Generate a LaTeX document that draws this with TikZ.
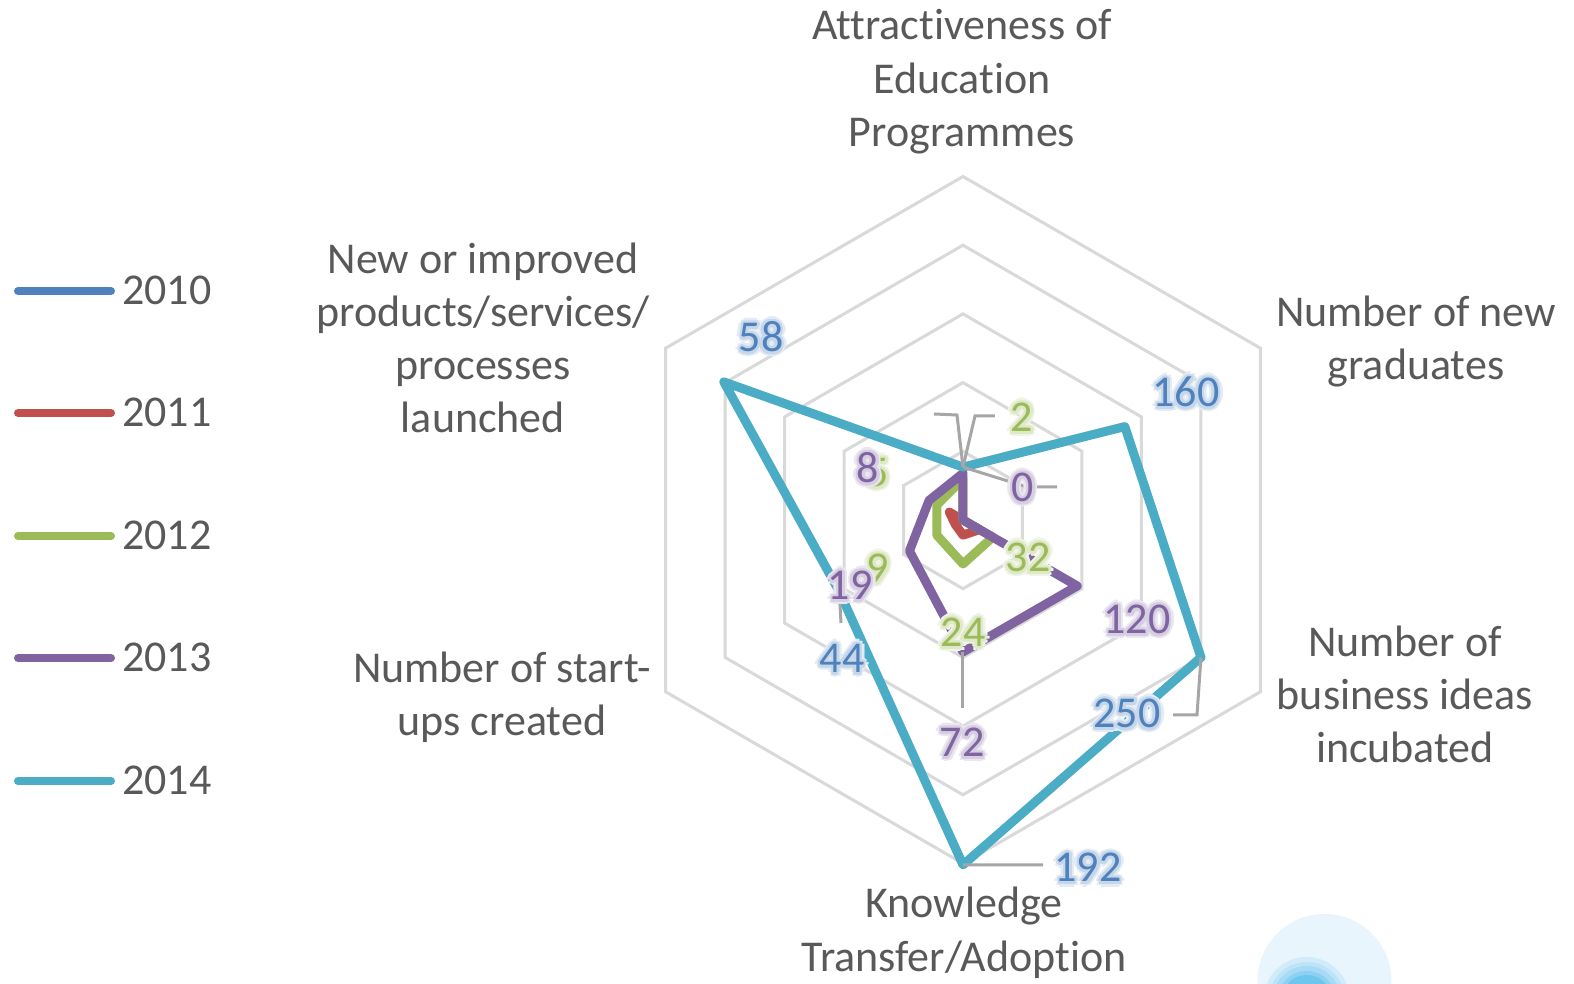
\documentclass[tikz,border=0pt]{standalone}
\usepackage{fontspec}
\setmainfont{Carlito}[Ligatures=CommonOff]
\usetikzlibrary{calc}
\definecolor{c2010}{HTML}{4F81BD}
\definecolor{c2011}{HTML}{C0504D}
\definecolor{c2012}{HTML}{9BBB59}
\definecolor{c2013}{HTML}{8064A2}
\definecolor{c2014}{HTML}{4BACC6}
\definecolor{txtgray}{HTML}{595959}
\definecolor{gridgray}{HTML}{D9D9D9}
\definecolor{leadgray}{HTML}{A6A6A6}
\definecolor{deco0}{HTML}{E8F5FC}
\definecolor{deco1}{HTML}{D0EBF9}
\definecolor{deco2}{HTML}{BDE3F7}
\definecolor{deco3}{HTML}{A6DAF5}
\definecolor{deco4}{HTML}{8CD0F2}
\definecolor{deco5}{HTML}{6DC6EE}
\tikzset{
  series/.style={line width=9pt,line join=round,line cap=round},
  ring/.style={draw=gridgray,line width=3pt},
  leader/.style={draw=leadgray,line width=3pt},
  legline/.style={line width=8pt,line cap=round},
  axlbl/.style={text=txtgray,align=center,inner sep=0pt,anchor=base},
  vallbl/.style={inner sep=0pt,anchor=base}
}
\newcommand{\glowval}[4]{%
  \foreach \a in {0,45,...,315}
    \node[vallbl,text=#3!16] at ($(#2)+(\a:5)$) {#4};
  \foreach \a in {0,30,...,330}
    \node[vallbl,text=#3!32] at ($(#2)+(\a:2.5)$) {#4};
  \node[vallbl,text=#3] (#1) at (#2) {#4};
}

\begin{document}
\begin{tikzpicture}[x=1pt,y=1pt,font=\fontsize{44}{53.3}\selectfont]
\def\ru{68.7}
\fill[white] (-963,-464) rectangle (611,520);
\useasboundingbox (-963,-464) rectangle (611,520);
\begin{scope}
  \clip (-963,-464) rectangle (611,520);
  \fill[deco0] (361.5,-461) circle (67);
  \foreach \r/\c in {43/deco1,38/deco2,34/deco3,29/deco4,25/deco5}
    \fill[fill=\c] (343.7,-480) circle (\r);
\end{scope}

\foreach \k in {1,...,5}
  \draw[ring] (90:{\k*\ru}) -- (30:{\k*\ru}) -- (-30:{\k*\ru}) -- (-90:{\k*\ru}) -- (210:{\k*\ru}) -- (150:{\k*\ru}) -- cycle;

\foreach \n/\a/\v in {1/90/0,2/30/0,3/-30/0.28,4/-90/0.22,5/210/0.13,6/150/0.23}
  \coordinate (r\n) at (\a:{\v*\ru});
\foreach \n/\a/\v in {1/90/0.6,2/30/0,3/-30/0.5,4/-90/0.64,5/210/0.44,6/150/0.44}
  \coordinate (g\n) at (\a:{\v*\ru});
\foreach \n/\a/\v in {1/90/0.68,2/30/0,3/-30/1.92,4/-90/1.92,5/210/0.9,6/150/0.57}
  \coordinate (p\n) at (\a:{\v*\ru});
\foreach \n/\a/\v in {1/90/0.77,2/30/2.72,3/-30/4.0,4/-90/5.02,5/210/2.08,6/150/4.02}
  \coordinate (t\n) at (\a:{\v*\ru});

\draw[series,c2011] (r1) -- (r2) -- (r3) -- (r4) -- (r5) -- (r6) -- cycle;
\draw[series,c2012] (g1) -- (g2) -- (g3) -- (g4) -- (g5) -- (g6) -- cycle;
\draw[series,c2013] (p1) -- (p2) -- (p3) -- (p4) -- (p5) -- (p6) -- cycle;
\draw[series,c2014] (t1) -- (t2) -- (t3) -- (t4) -- (t5) -- (t6) -- cycle;

\coordinate (la) at (-6,105);
\coordinate (lb) at (-29,106);
\coordinate (lc) at (12,104);
\coordinate (ld) at (32,104);
\coordinate (le) at (64,33);
\coordinate (lf) at (94,33);
\coordinate (lg) at (-122,-103);
\coordinate (lh) at (0,-188);
\coordinate (li) at (234,-195);
\coordinate (lj) at (210,-195);
\coordinate (lk) at (80,-345);
\draw[leader] (t1) -- (la) -- (lb);
\draw[leader] (t1) -- (lc) -- (ld);
\draw[leader] (t1) -- (le) -- (lf);
\draw[leader] (t5) -- (lg);
\draw[leader] (p4) -- (lh);
\draw[leader] (t3) -- (li) -- (lj);
\draw[leader] (t4) -- (lk);

\glowval{g5v}{-85,33}{c2012}{5}
\glowval{g9v}{-85,-63}{c2012}{9}
\glowval{g2v}{59,88}{c2012}{2}
\glowval{g32v}{65,-52}{c2012}{32}
\glowval{g24v}{0,-127}{c2012}{24}
\glowval{p8v}{-95,37}{c2013}{8}
\glowval{p19v}{-113,-80}{c2013}{19}
\glowval{p0v}{60,18}{c2013}{0}
\glowval{p120v}{174,-114}{c2013}{120}
\glowval{p72v}{-1,-237}{c2013}{72}
\glowval{t58v}{-202,168}{c2010}{58}
\glowval{t160v}{223,113}{c2010}{160}
\glowval{t250v}{164,-208}{c2010}{250}
\glowval{t192v}{125,-362}{c2010}{192}
\glowval{t44v}{-121,-153}{c2010}{44}

\node[axlbl] (attr) at (-1,373.4) {Attractiveness of\\Education\\Programmes};
\node[axlbl] (grad) at (453,140) {Number of new\\graduates};
\node[axlbl] (incub) at (442,-243) {Number of\\business ideas\\incubated};
\node[axlbl] (know) at (1,-451) {Knowledge\\Transfer/Adoption};
\node[axlbl] (start) at (-461,-216) {Number of start-\\ups created};
\node[axlbl] (prod) at (-480,87) {New or improved\\products/services/\\processes\\launched};

\foreach \y/\c/\t in {229/c2010/2010,107/c2011/2011,-16/c2012/2012,-138/c2013/2013,-261/c2014/2014}{
  \draw[legline,color=\c] (-945,\y) -- (-852,\y);
  \node[axlbl,anchor=base west] (leg\t) at (-841,\y-14) {\t};
}
\end{tikzpicture}
\end{document}
